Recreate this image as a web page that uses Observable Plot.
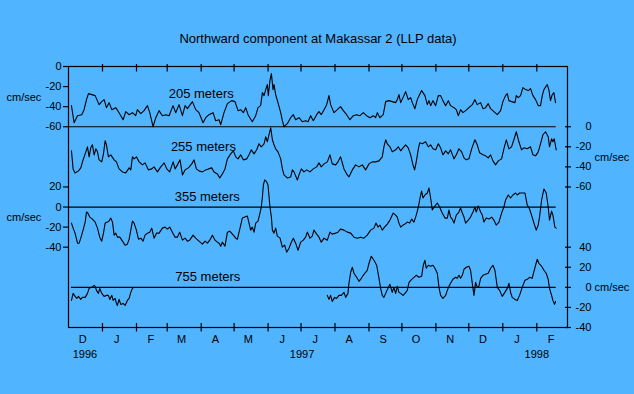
<!DOCTYPE html>
<html><head><meta charset="utf-8">
<script src="https://cdn.jsdelivr.net/npm/d3@7"></script>
<script src="https://cdn.jsdelivr.net/npm/@observablehq/plot@0.6"></script>
<style>
html,body{margin:0;padding:0;background:#50B4FF;overflow:hidden;}
</style></head><body><div id="chart"></div>
<script>
// ---- data: days since 1996-12-01 and northward velocity (cm/sec) ----
const days205 = [2.7,5.1,8.2,12.1,14.2,16.4,18.2,21.2,24.3,27.9,30.3,32.5,34.6,37.0,39.5,43.1,46.1,49.8,52.2,55.2,58.3,61.3,62.8,65.9,68.9,72.0,74.1,77.1,79.6,82.6,85.6,88.7,91.7,95.3,97.8,100.8,103.9,106.3,108.4,113.0,116.0,119.0,122.7,125.1,128.1,131.8,134.2,137.3,138.8,141.8,144.9,148.8,151.8,
154.6,157.0,159.4,161.6,163.7,167.6,170.7,172.8,175.2,176.8,178.3,179.8,181.3,182.2,183.7,185.0,186.5,187.4,188.9,191.0,193.5,195.0,196.5,199.5,202.6,205.0,207.1,210.2,213.2,216.2,218.4,220.8,223.2,226.3,228.4,230.5,233.0,235.4,237.5,239.0,242.1,245.1,248.1,250.6,253.6,256.6,259.7,262.7,265.8,268.8,271.8,274.9,277.9,280.0,281.6,284.0,287.0,289.2,292.2,295.2,
298.3,299.8,301.3,302.9,305.0,307.4,309.8,312.0,313.5,315.9,318.0,320.2,322.0,325.0,327.2,328.7,330.2,332.3,334.8,337.2,339.3,341.4,343.9,346.3,348.4,351.5,353.6,355.4,357.5,359.7,362.1,365.1,368.2,370.6,372.7,375.8,377.9,380.3,382.7,384.9,387.9,391.0,394.0,396.1,398.5,400.1,401.6,404.0,407.1,408.3,410.1,412.2,414.3,416.8,419.2,421.3,423.5,425.9,428.3,430.4,432.0,433.5,436.5,438.0,439.5,441.1,442.6,444.1];
const vel205 = [-39,-56,-49,-48,-43,-33,-27,-28,-29,-38,-35,-33,-41,-36,-43,-41,-46,-53,-45,-48,-46,-49,-43,-47,-44,-39,-46,-60,-51,-44,-49,-48,-49,-39,-46,-38,-49,-39,-42,-35,-43,-46,-56,-51,-48,-46,-54,-53,-58,-46,-37,-34,-35,
-44,-43,-46,-41,-48,-55,-49,-41,-39,-26,-29,-23,-18,-29,-14,-7,-23,-18,-28,-36,-46,-54,-60,-57,-51,-48,-53,-51,-55,-54,-55,-49,-54,-48,-45,-48,-43,-38,-29,-38,-46,-43,-40,-44,-48,-53,-49,-48,-49,-46,-49,-51,-49,-51,-46,-51,-48,-35,-34,-35,
-36,-33,-28,-36,-31,-25,-33,-31,-36,-42,-33,-28,-24,-29,-38,-34,-39,-34,-39,-29,-29,-34,-39,-34,-39,-41,-43,-49,-43,-46,-44,-41,-38,-33,-38,-36,-42,-41,-37,-42,-45,-48,-44,-35,-29,-27,-34,-35,-36,-29,-31,-29,-21,-23,-24,-22,-29,-33,-39,-39,-29,-23,-18,-23,-34,-28,-26,-36];

const days255 = [2.7,4.2,6.0,9.1,11.2,13.3,15.2,17.3,18.8,20.3,21.8,23.4,24.9,26.4,27.9,30.3,31.9,33.4,34.6,36.4,38.6,41.6,43.7,46.1,49.2,52.2,55.3,56.8,58.3,59.8,61.9,64.4,67.4,69.8,72.9,75.9,78.0,81.1,84.1,87.2,89.6,92.3,95.4,97.2,99.3,101.7,103.9,106.3,109.3,112.4,114.5,116.6,119.0,122.1,125.1,127.6,130.6,132.7,135.8,137.9,140.3,142.7,144.9,
147.9,150.3,152.5,154.6,157.0,159.4,162.5,164.6,166.7,169.2,171.6,173.7,175.8,178.3,179.8,181.3,182.8,184.4,185.9,187.4,188.9,191.0,193.5,195.0,196.5,199.5,202.6,204.1,205.6,208.7,210.2,212.3,214.7,217.2,220.2,223.2,226.3,228.4,230.5,233.0,236.0,238.4,240.5,243.6,245.7,248.1,251.2,254.2,255.7,258.8,261.8,264.9,267.9,270.9,274.0,277.0,280.0,283.1,286.1,287.6,289.2,290.7,293.1,295.2,
298.3,300.7,302.9,305.0,307.4,309.8,312.0,314.1,315.6,317.1,319.0,320.2,322.6,325.6,328.1,330.2,332.3,334.8,337.2,339.3,341.4,343.9,346.3,348.4,351.5,353.6,356.0,358.5,360.6,362.7,365.1,367.6,370.6,372.7,374.9,377.9,380.3,382.7,384.9,387.0,389.4,391.9,394.9,397.0,399.2,401.6,404.0,406.1,408.3,410.7,413.1,415.2,418.3,421.3,423.5,425.9,428.3,430.4,432.6,435.0,437.4,438.6,440.5,441.7,442.9,444.7];
const vel255 = [-24,-42,-46,-44,-41,-33,-27,-20,-30,-21,-18,-28,-22,-25,-33,-35,-27,-14,-18,-30,-28,-33,-35,-42,-45,-46,-41,-43,-30,-32,-30,-35,-38,-36,-43,-42,-40,-45,-40,-36,-42,-45,-35,-42,-38,-33,-48,-43,-41,-37,-33,-42,-44,-45,-43,-42,-41,-45,-47,-51,-47,-42,-32,
-27,-24,-30,-32,-28,-33,-32,-28,-23,-27,-23,-17,-20,-17,-10,-15,-8,-1,-13,-18,-22,-25,-32,-42,-48,-51,-50,-43,-45,-53,-48,-42,-45,-43,-45,-42,-40,-36,-40,-37,-35,-28,-37,-38,-35,-30,-42,-48,-50,-43,-38,-40,-38,-43,-37,-35,-35,-34,-30,-20,-13,-17,-20,-25,
-23,-20,-24,-21,-18,-21,-28,-38,-43,-35,-22,-16,-17,-15,-20,-18,-22,-23,-17,-21,-28,-24,-27,-23,-32,-28,-22,-25,-31,-33,-32,-22,-13,-18,-26,-28,-29,-31,-28,-34,-38,-34,-32,-22,-13,-22,-20,-13,-5,-15,-23,-21,-22,-20,-28,-29,-25,-17,-8,-5,-10,-20,-12,-15,-12,-23];

const days355 = [2.7,4.2,6.0,8.2,9.7,11.2,13.3,15.2,16.4,17.6,19.4,21.8,24.3,26.4,28.5,30.3,31.9,33.4,35.5,37.0,38.5,40.1,41.6,43.1,44.6,46.8,49.2,51.6,53.7,55.3,56.8,58.3,59.8,61.9,63.8,65.9,68.0,69.8,72.0,74.1,75.9,78.0,80.2,82.6,85.6,88.1,90.2,92.3,94.7,97.2,99.3,101.4,103.9,106.3,108.4,110.5,113.6,116.0,119.0,122.1,124.5,126.7,128.8,131.2,133.6,135.8,137.3,138.8,140.3,142.7,144.9,147.0,
150.3,152.5,154.0,156.4,158.5,160.7,163.1,164.6,166.1,167.6,169.2,170.7,172.8,174.6,175.8,176.8,177.7,178.9,180.7,181.9,183.7,185.0,185.9,187.4,188.9,190.4,192.9,195.0,197.1,198.9,201.1,203.2,205.0,207.1,209.3,211.7,214.1,216.2,217.8,220.2,222.3,223.8,226.3,228.4,230.5,233.0,236.0,238.4,240.5,243.6,245.7,248.1,251.2,254.2,257.3,260.3,263.3,266.4,269.4,272.4,275.5,278.5,280.3,282.2,284.0,286.1,288.2,290.7,293.1,296.1,298.3,
299.8,301.3,302.9,305.0,306.8,308.9,311.1,312.9,315.0,317.1,319.0,320.5,322.0,323.2,325.0,327.2,328.7,330.2,331.7,334.1,336.3,338.4,340.8,343.3,345.4,346.9,348.4,349.9,351.5,353.6,356.0,357.5,359.1,360.6,362.1,364.5,366.6,368.8,370.6,371.8,373.6,375.8,377.3,378.8,380.9,383.4,385.8,387.9,390.0,392.5,394.9,397.0,398.5,401.0,403.1,405.2,407.7,409.2,411.3,413.7,416.2,418.3,420.4,422.2,424.4,426.5,428.3,429.5,431.4,433.5,435.6,437.4,438.6,440.5,441.7,443.5,444.7];
const vel355 = [-16,-21,-26,-36,-36,-31,-23,-15,-5,-6,-10,-12,-15,-21,-30,-34,-26,-16,-15,-14,-11,-15,-28,-26,-30,-30,-34,-38,-37,-32,-23,-14,-16,-23,-32,-31,-34,-28,-26,-25,-21,-31,-26,-26,-21,-20,-22,-20,-25,-30,-30,-25,-33,-31,-34,-33,-28,-31,-34,-37,-34,-36,-33,-28,-33,-35,-36,-39,-35,-39,-25,-24,
-28,-31,-32,-21,-11,-10,-9,-16,-23,-20,-25,-16,-14,-6,0,10,22,27,25,22,0,-10,-23,-26,-21,-29,-31,-40,-38,-45,-41,-35,-31,-36,-43,-35,-33,-30,-25,-31,-29,-23,-27,-30,-35,-31,-33,-25,-27,-26,-25,-22,-23,-25,-26,-30,-31,-30,-31,-28,-23,-21,-16,-20,-18,-23,-20,-17,-13,-6,-8,
-10,-16,-20,-18,-17,-15,-16,-12,-15,-8,0,9,16,9,12,14,19,9,-3,1,4,0,-6,-11,-11,-3,-10,-12,-16,-8,-5,-1,-6,-10,-16,-13,-10,-5,0,-5,1,-5,-8,-15,-11,-12,-10,-13,-18,-15,-6,0,7,12,9,12,14,12,14,14,14,2,-2,-8,-16,-23,-18,-10,7,18,14,0,-13,-4,-8,-20,-21];

// 755 m record has a gap (Feb-Jul 1997)
const days755a = [2.7,4.2,6.0,7.6,9.1,11.2,12.7,15.2,17.3,18.8,21.2,23.4,24.3,25.5,27.3,28.5,30.3,32.5,34.6,36.4,37.6,39.5,40.7,42.5,43.7,44.6,46.1,47.7,49.8,51.6,53.7,55.3,56.8,58.3,59.5];
const vel755a = [-13,-6,-9,-11,-9,-12,-10,-10,-6,-1,0,2,1,-3,-6,-1,-6,-9,-8,-8,-12,-8,-13,-11,-16,-18,-12,-17,-16,-18,-13,-11,-5,-1,0];
const days755b = [236.0,237.5,239.0,240.5,242.7,244.5,246.6,248.8,251.2,252.7,254.8,255.7,257.3,258.8,260.3,262.7,264.9,267.0,268.8,270.9,272.4,274.0,276.1,278.5,281.0,283.1,284.6,286.1,287.6,289.2,291.3,293.1,295.2,296.7,298.3,
299.8,301.3,302.9,305.0,306.8,308.9,310.5,312.9,315.0,317.1,319.6,322.0,323.5,325.0,326.2,328.1,330.2,332.3,334.1,336.3,337.8,339.3,341.4,343.9,345.4,346.9,348.4,350.5,353.0,354.5,356.0,357.5,359.1,360.6,362.7,365.1,366.6,368.2,369.7,371.2,372.7,374.2,375.8,377.9,380.3,382.7,384.9,387.0,388.8,391.0,393.1,395.5,397.9,400.1,401.6,403.1,404.6,407.1,409.2,411.3,413.7,416.2,418.3,420.4,422.8,424.4,425.9,427.4,428.9,431.4,433.5,435.6,437.4,438.6,440.5,441.7,443.2,444.1];
const vel755b = [-8,-12,-8,-14,-10,-11,-8,-8,-5,-10,-6,4,15,20,14,10,6,9,12,15,17,24,31,27,22,9,-1,-8,-10,-6,-1,3,-5,0,-6,
1,-5,-6,-8,-6,-3,5,8,10,12,10,11,22,27,19,22,21,22,19,14,0,-8,-11,-8,-3,1,4,8,10,9,12,9,12,18,20,21,17,4,-8,5,0,1,9,12,13,14,19,22,17,0,-3,-9,-5,-1,4,-5,-10,-12,-13,-8,0,7,8,10,9,16,22,28,24,21,17,14,8,-1,-8,-13,-17,-14];

const depthLabels = ["205 meters", "255 meters", "355 meters", "755 meters"];
const monthLabels = ["D","J","F","M","A","M","J","J","A","S","O","N","D","J","F"];
const yearLabels = ["1996", "1997", "1998"];
const yearDates = ["1996-12-16", "1997-07-02", "1998-02-01"];
const leftTicks205 = [0, -20, -40, -60];
const rightTicks255 = [0, -20, -40, -60];
const leftTicks355 = [20, 0, -20, -40];
const rightTicks755 = [40, 20, 0, -20, -40];

// ---- layout ----
const BG = "#50B4FF";
const FONT = "'Liberation Sans', Arial, Helvetica, sans-serif";
const offset = {"205": 0, "255": -60, "355": -140, "755": -220}; // vertical stacking of the panels
const t0 = Date.UTC(1996, 11, 1);
const toDate = d => new Date(t0 + d * 864e5);
const xStart = toDate(0);
const xEnd = new Date(Date.UTC(1998, 2, 1));

const rows = [];
function add(series, seg, days, vals) {
  days.forEach((d, i) => rows.push({date: toDate(d), v: vals[i], series, seg, g: vals[i] + offset[series]}));
}
add("205", "205", days205, vel205);
add("255", "255", days255, vel255);
add("355", "355", days355, vel355);
add("755", "755a", days755a, vel755a);
add("755", "755b", days755b, vel755b);

const lastDay = toDate(d3.max([...days205, ...days255, ...days355, ...days755b]));
const first755 = toDate(d3.min(days755a));

const monthTicks = d3.utcMonth.range(new Date(Date.UTC(1997, 0, 1)), xEnd);
const monthLabelDates = d3.utcMonth.range(xStart, xEnd).map(m => d3.utcDay.offset(m, 13));

const leftTicks = [...leftTicks205.map(v => v + offset["205"]), ...leftTicks355.map(v => v + offset["355"])];
const rightTicks = [...rightTicks255.map(v => v + offset["255"]), ...rightTicks755.map(v => v + offset["755"])];
const fmtLeft = g => String(g > -100 ? g - offset["205"] : g - offset["355"]);
const fmtRight = g => String(g > -150 ? g - offset["255"] : g - offset["755"]);

const baselines = [
  {y: offset["255"], x1: xStart, x2: lastDay},
  {y: offset["355"], x1: xStart, x2: lastDay},
  {y: offset["755"], x1: first755, x2: lastDay}
];

const chart = Plot.plot({
  width: 634, height: 394,
  marginLeft: 68, marginRight: 67, marginTop: 66, marginBottom: 67,
  style: {background: BG, fontFamily: FONT, fontSize: "11px", color: "#000", overflow: "visible"},
  x: {type: "utc", domain: [xStart, xEnd]},
  y: {domain: [-260, 0]},
  marks: [
    Plot.frame({stroke: "#000", strokeWidth: 1.2}),
    Plot.ruleY(baselines, {y: "y", x1: "x1", x2: "x2", stroke: "#000", strokeWidth: 1.2}),
    Plot.line(rows, {x: "date", y: "g", z: "seg", stroke: "#000", strokeWidth: 1.1, curve: "linear"}),
    Plot.axisX({anchor: "top", ticks: monthTicks, tickSize: 7.5, dy: 4.5, tickFormat: () => "", strokeWidth: 1.2}),
    Plot.axisX({anchor: "bottom", ticks: monthTicks, tickSize: 8.5, dy: -4, tickFormat: () => "", strokeWidth: 1.2}),
    Plot.axisY({anchor: "left", ticks: leftTicks, tickSize: 5, tickPadding: 2, tickFormat: fmtLeft, fontSize: 11, strokeWidth: 1.2}),
    Plot.axisY({anchor: "right", ticks: rightTicks, tickSize: 6, dx: -3, tickPadding: 21, textAnchor: "end", tickFormat: fmtRight, fontSize: 11, strokeWidth: 1.2}),
    Plot.text(monthLabels, {x: monthLabelDates, text: d => d, frameAnchor: "bottom", dy: 15, fontSize: 11}),
    Plot.text(yearLabels, {x: yearDates.map(s => new Date(s)), text: d => d, frameAnchor: "bottom", dy: 30, fontSize: 11}),
    Plot.text(["cm/sec", "cm/sec"], {y: [-31 + offset["205"], -10 + offset["355"]], frameAnchor: "left", textAnchor: "start", dx: -62, fontSize: 11}),
    Plot.text(["cm/sec", "cm/sec"], {y: [-31 + offset["255"], 0 + offset["755"]], frameAnchor: "right", textAnchor: "start", dx: 27, fontSize: 11}),
    Plot.text(depthLabels, {
      x: [toDate(121), toDate(123), toDate(126.5), toDate(127)],
      y: [-27 + offset["205"], -20 + offset["255"], 10 + offset["355"], 10 + offset["755"]],
      text: d => d, fontSize: 13
    }),
    Plot.text(["Northward component at Makassar 2 (LLP data)"], {frameAnchor: "top", dy: -33, fontSize: 13})
  ]
});
document.getElementById("chart").appendChild(chart);
</script>
</body></html>
